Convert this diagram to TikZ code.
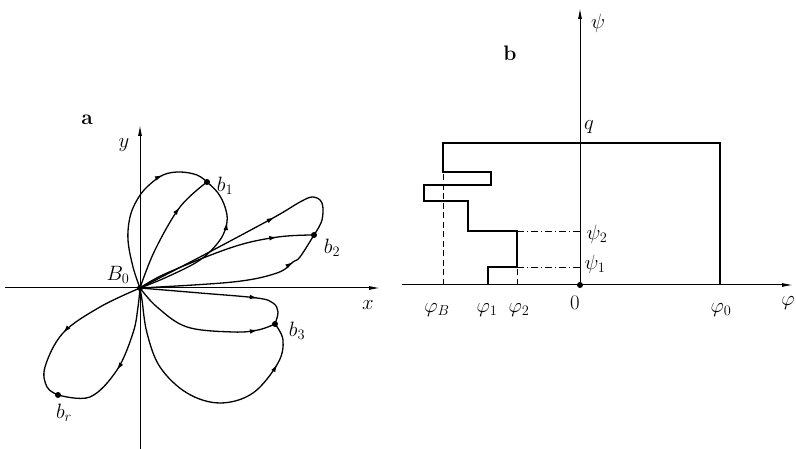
\documentclass[tikz,border=0pt]{standalone}
\usetikzlibrary{arrows.meta,decorations.markings}

\begin{document}
\begin{tikzpicture}[x=1pt,y=1pt,axis/.style={line width=1pt,-{Latex[length=11pt,width=4pt]}},orbit/.style={line width=1.3pt},midarrow/.style={postaction={decorate},decoration={markings,mark=at position #1 with {\arrow{Latex[length=8pt,width=4.6pt]}}}},bdot/.style={circle,fill,inner sep=0pt,minimum size=6pt},lbl/.style={font=\fontsize{21}{24}\selectfont,inner sep=1pt},panel/.style={font=\fontsize{21}{24}\selectfont\bfseries},contour/.style={line width=1.6pt},guide/.style={line width=0.8pt,dash pattern=on 6pt off 3.5pt},level/.style={line width=0.8pt,dash pattern=on 7pt off 3pt on 1pt off 3pt}]
\useasboundingbox (0,0) rectangle (796,449);

% a) trajectories in the plane
\begin{scope}[shift={(140,161)}]
\coordinate (xl) at (-135,0);
\coordinate (xr) at (240,0);
\coordinate (yb) at (0,-162);
\coordinate (yt) at (0,163);
\draw[axis] (xl) -- (xr);
\draw[axis] (yb) -- (yt);
\node[bdot] (B0) at (0,0) {};
\node[bdot] (b1) at (67,106) {};
\node[bdot] (b2) at (174,53) {};
\node[bdot] (b3) at (135,-36) {};
\node[bdot] (br) at (-82,-107) {};
% loop b1
\draw[orbit,midarrow=0.73] plot[smooth,tension=0.6] coordinates {(B0.center) (-7,21) (-12,48) (-10,71) (-3,88) (7,101) (23,113) (40,116) (57,113) (b1.center)};
\draw[orbit,midarrow=0.71] plot[smooth,tension=0.6] coordinates {(B0.center) (27,11) (60,28) (80,48) (87,66) (85,81) (78,95) (b1.center)};
\draw[orbit,midarrow=0.71] plot[smooth,tension=0.6] coordinates {(B0.center) (15,38) (40,81) (b1.center)};
% loop b2
\draw[orbit,midarrow=0.63] plot[smooth,tension=0.6] coordinates {(B0.center) (60,31) (133,70) (160,86) (173,91) (182,85) (182,68) (b2.center)};
\draw[orbit,midarrow=0.80] plot[smooth,tension=0.6] coordinates {(B0.center) (27,15) (93,41) (138,51) (b2.center)};
\draw[orbit,midarrow=0.82] plot[smooth,tension=0.6] coordinates {(B0.center) (93,6) (137,15) (153,26) (160,31) (b2.center)};
% loop b3
\draw[orbit,midarrow=0.75] plot[smooth,tension=0.6] coordinates {(B0.center) (60,-5) (117,-10) (133,-15) (138,-24) (b3.center)};
\draw[orbit,midarrow=0.88] plot[smooth,tension=0.6] coordinates {(B0.center) (17,-19) (47,-39) (93,-44) (118,-42) (b3.center)};
\draw[orbit,midarrow=0.84] plot[smooth,tension=0.6] coordinates {(B0.center) (2,-12) (7,-45) (20,-79) (47,-105) (80,-115) (113,-105) (138,-75) (143,-52) (b3.center)};
% loop br
\draw[orbit,midarrow=0.55] plot[smooth,tension=0.6] coordinates {(B0.center) (-40,-19) (-77,-45) (-95,-79) (-93,-99) (br.center)};
\draw[orbit,midarrow=0.55] plot[smooth,tension=0.6] coordinates {(B0.center) (-2,-19) (-7,-45) (-23,-82) (-50,-109) (br.center)};
\node[panel] (pa) at (-53,168) {a};
\node[lbl] (ylbl) at (-16,143) {$y$};
\node[lbl] (xlbl) at (228,-17) {$x$};
\node[lbl] (B0lbl) at (-22,13) {$B_0$};
\node[lbl] (b1lbl) at (85,102) {$b_1$};
\node[lbl] (b2lbl) at (192,40) {$b_2$};
\node[lbl] (b3lbl) at (157,-43) {$b_3$};
\node[lbl] (brlbl) at (-76,-125) {$b_r$};
\end{scope}

% b) phase picture
\begin{scope}[shift={(580,164)}]
\coordinate (fl) at (-178,0);
\coordinate (fr) at (213,0);
\coordinate (pt) at (0,277);
\node[bdot] (O) at (0,0) {};
\draw[axis] (fl) -- (fr);
\draw[axis] (O.center) -- (pt);
\draw[contour] (-92,0) -- (-92,18) -- (-63,18) -- (-63,54) -- (-112,54) -- (-112,84) -- (-156,84) -- (-156,100) -- (-89,100) -- (-89,113) -- (-137,113) -- (-137,142) -- (140,142) -- (140,0);
\draw[guide] (-137,0) -- (-137,113);
\draw[guide] (-63,0) -- (-63,18);
\draw[level] (-63,54) -- (0,54);
\draw[level] (-63,18) -- (0,18);
\node[panel] (pb) at (-70,232) {b};
\node[lbl] (psilbl) at (18,262) {$\psi$};
\node[lbl] (qlbl) at (9,158) {$q$};
\node[lbl] (psi2) at (17,51) {$\psi_2$};
\node[lbl] (psi1) at (15,21) {$\psi_1$};
\node[lbl] (phiB) at (-143,-25) {$\varphi_B$};
\node[lbl] (phi1) at (-93,-25) {$\varphi_1$};
\node[lbl] (phi2) at (-61,-25) {$\varphi_2$};
\node[lbl] (zero) at (-5,-18) {$0$};
\node[lbl] (phi0) at (141,-25) {$\varphi_0$};
\node[lbl] (philbl) at (208,-18) {$\varphi$};
\end{scope}
\end{tikzpicture}
\end{document}
